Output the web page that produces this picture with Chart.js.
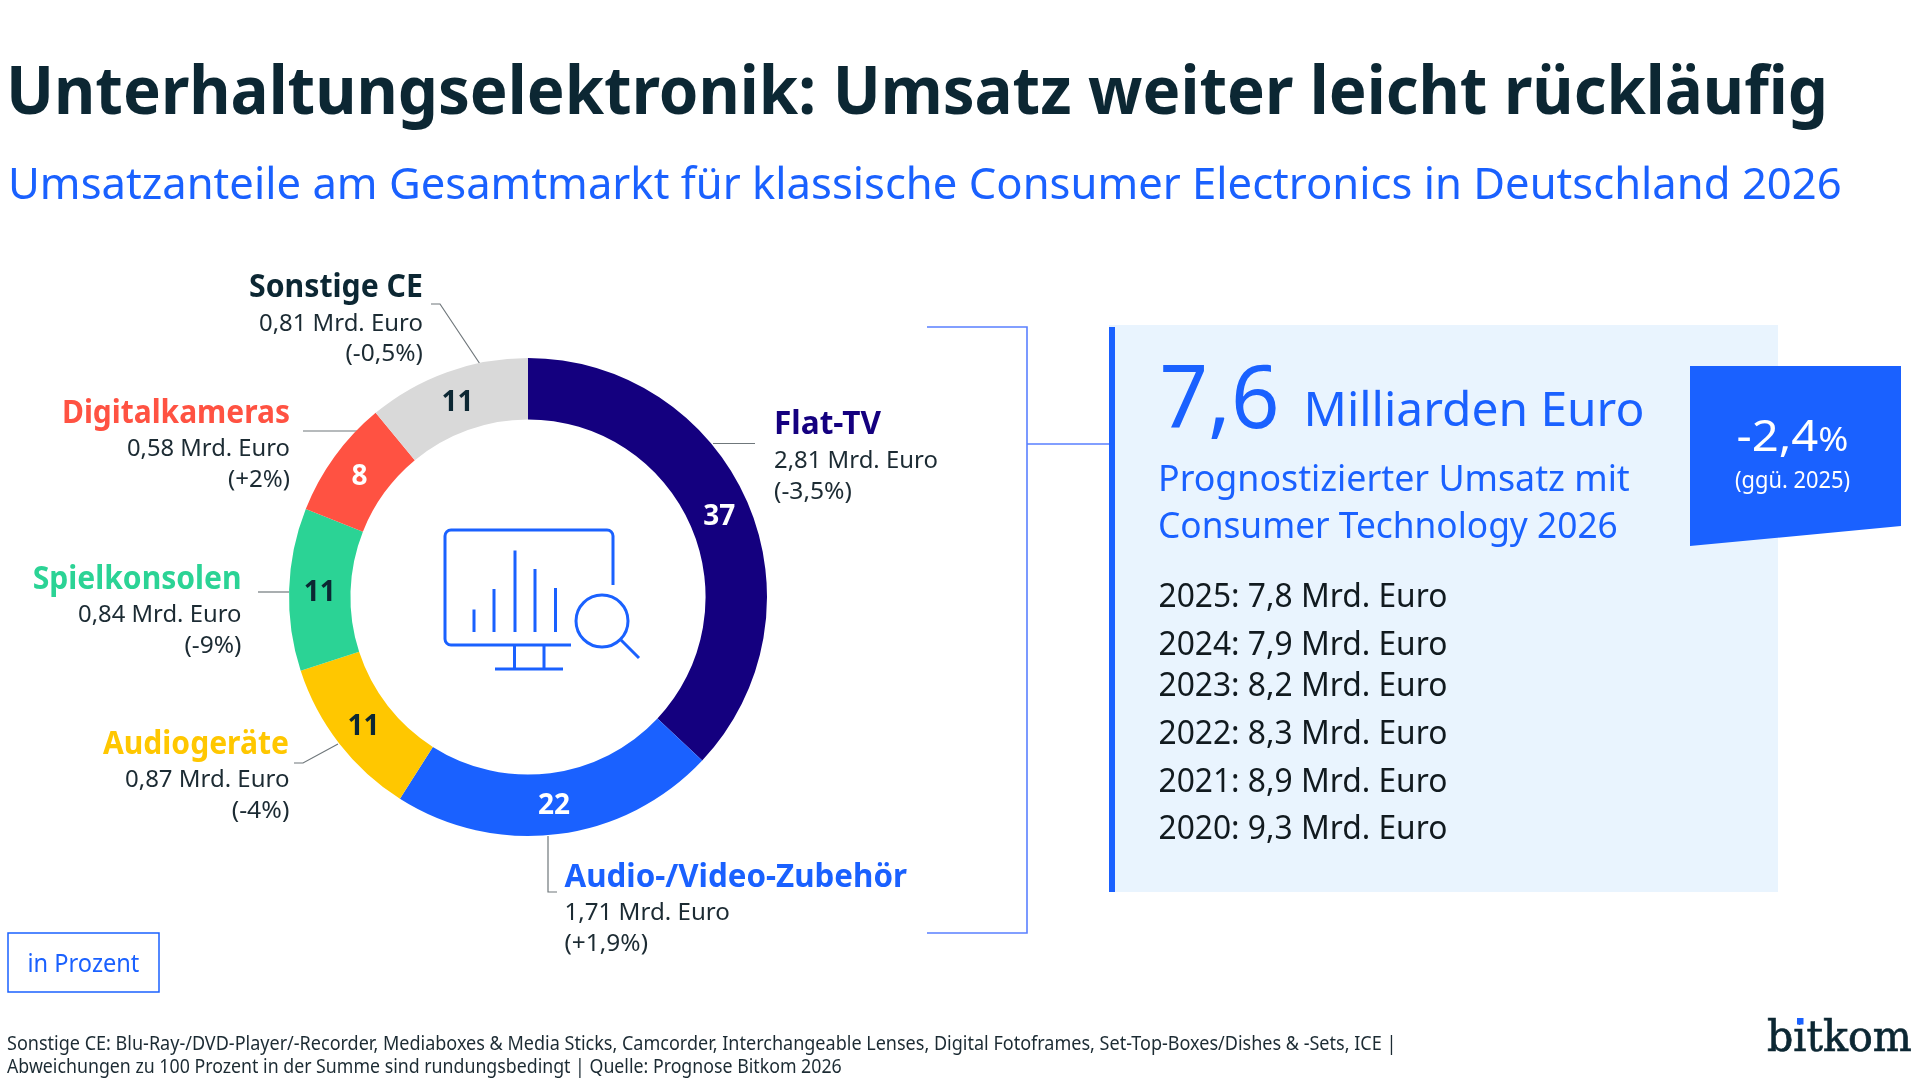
<!DOCTYPE html>
<html lang="de">
<head>
<meta charset="utf-8">
<title>Unterhaltungselektronik</title>
<script src="https://cdn.jsdelivr.net/npm/chart.js@4"></script>
<style>
    html, body { margin: 0; padding: 0; background: #fff; }
    #page { position: relative; width: 1920px; height: 1080px; overflow: hidden; }
    #ring { position: absolute; left: 278px; top: 347px; }
    #overlay { position: absolute; left: 0; top: 0; }
</style>
</head>
<body>
<div id="page">
    <svg id="overlay" width="1920" height="1080" viewBox="0 0 1920 1080" xmlns="http://www.w3.org/2000/svg">
        <!-- panel rechts -->
        <rect x="1109" y="325" width="669" height="567" fill="#e9f4fe"/>
        <rect x="1109" y="327" width="6" height="565" fill="#1a61ff"/>
        <polygon points="1690,366 1901,366 1901,526 1690,546" fill="#1a61ff"/>
        <!-- klammer -->
        <path d="M927 327H1027V933H927M1027 444H1109" fill="none" stroke="#5a80ff" stroke-width="1.6"/>
        <!-- leader lines -->
        <g fill="none" stroke="#6f777b" stroke-width="1.2">
            <path d="M431 304H440L480 364"/>
            <path d="M303 431H358"/>
            <path d="M713 443.5H755"/>
            <path d="M258 592H289"/>
            <path d="M294 763H303L338 744"/>
            <path d="M548 836V892H557"/>
        </g>
        <!-- icon -->
        <g fill="none" stroke="#1a61ff" stroke-width="3">
            <path d="M613 585V536a6 6 0 0 0-6-6H451a6 6 0 0 0-6 6V639a6 6 0 0 0 6 6H571"/>
            <path d="M514.5 645V668M544 645V668M495 669H563"/>
            <path d="M474 609.5V632M494 589V632M515 550.5V632M535 569V632M555.5 588V632"/>
            <circle cx="602" cy="621" r="26"/>
            <path d="M621 640L639 658"/>
        </g>
        <!-- in Prozent -->
        <rect x="8" y="933" width="151" height="59" fill="none" stroke="#1a61ff" stroke-width="1.5"/>
    </svg>
    <canvas id="ring" width="500" height="500"></canvas>
    <svg id="labels" style="position:absolute;left:0;top:0" width="1920" height="1080" viewBox="0 0 1920 1080" xmlns="http://www.w3.org/2000/svg"></svg>
</div>
<script>
const categories = ["Flat-TV", "Audio-/Video-Zubehör", "Audiogeräte", "Spielkonsolen", "Digitalkameras", "Sonstige CE"];
const shares = [37, 22, 11, 11, 8, 11];
const amounts = ["2,81 Mrd. Euro", "1,71 Mrd. Euro", "0,87 Mrd. Euro", "0,84 Mrd. Euro", "0,58 Mrd. Euro", "0,81 Mrd. Euro"];
const changes = ["(-3,5%)", "(+1,9%)", "(-4%)", "(-9%)", "(+2%)", "(-0,5%)"];
const historyYears = ["2025", "2024", "2023", "2022", "2021", "2020"];
const historyValues = ["7,8", "7,9", "8,2", "8,3", "8,9", "9,3"];

const ringColors = ["#14007f", "#1a61ff", "#ffc700", "#2bd395", "#ff5242", "#d9d9d9"];
const nameColors = ["#14007f", "#1a61ff", "#ffc700", "#2bd395", "#ff5242", "#0c2733"];
const shareColors = ["#fff", "#fff", "#0c2733", "#0c2733", "#fff", "#0c2733"];

// x = linke kante, y = baseline, w = breite je zeile
const labelPos = [
    { y: [433.5, 468, 499], x: [774, 774, 774], w: [107, 164, 78] },
    { y: [886.5, 920, 951], x: [564.5, 564.5, 564.5], w: [342.5, 165.5, 83.5] },
    { y: [753.5, 786.5, 817.5], x: [103, 125, 231.7], w: [186, 164.5, 57.7] },
    { y: [589, 622, 653], x: [32.7, 78, 184.5], w: [209, 163.5, 57] },
    { y: [423, 456, 487], x: [62, 127, 228], w: [228, 163, 62] },
    { y: [296.5, 330.5, 361], x: [249, 259, 345.5], w: [174, 164, 77.5] }
];
const historyBase = [606.5, 654.5, 696, 743.5, 791.5, 838.5];

const labels = document.getElementById("labels");

// text auf feste breite gestaucht, y ist die baseline
function addText(str, x, y, size, color, weight, width, family) {
    const t = document.createElementNS("http://www.w3.org/2000/svg", "text");
    t.setAttribute("x", 0);
    t.setAttribute("y", 0);
    t.setAttribute("fill", color);
    t.setAttribute("font-size", size);
    t.setAttribute("font-weight", weight);
    t.setAttribute("font-family", family || '"Noto Sans", sans-serif');
    t.textContent = str;
    labels.appendChild(t);
    t.dataset.width = width;
    t.dataset.x = x;
    t.dataset.y = y;
    return t;
}

function fitTexts() {
    labels.querySelectorAll("text").forEach(function (t) {
        const k = t.dataset.width / t.getComputedTextLength();
        t.setAttribute("transform", "translate(" + t.dataset.x + " " + t.dataset.y + ") scale(" + k + " 1)");
    });
}

const dark = "#0c2733";
const blue = "#1a61ff";

addText("Unterhaltungselektronik: Umsatz weiter leicht rückläufig", 6, 114, 67, dark, 700, 1822);
addText("Umsatzanteile am Gesamtmarkt für klassische Consumer Electronics in Deutschland 2026", 8, 199, 44, blue, 400, 1834);

categories.forEach(function (name, i) {
    const p = labelPos[i];
    addText(name, p.x[0], p.y[0], 32, nameColors[i], 700, p.w[0]);
    addText(amounts[i], p.x[1], p.y[1], 24, "#1c2b33", 400, p.w[1]);
    addText(changes[i], p.x[2], p.y[2], 24, "#1c2b33", 400, p.w[2]);
});

addText("7,6", 1159.5, 428, 88, blue, 400, 120);
addText("Milliarden Euro", 1303.5, 426, 48, blue, 400, 341);
addText("Prognostizierter Umsatz mit", 1158, 491, 37, blue, 400, 472);
addText("Consumer Technology 2026", 1158, 537.5, 37, blue, 400, 460);

historyYears.forEach(function (year, i) {
    addText(year + ": " + historyValues[i] + " Mrd. Euro", 1158.5, historyBase[i], 32, "#111a1f", 400, 289);
});

const pct = addText("-2,4", 1736.5, 451, 43, "#fff", 400, 112);
const pctSign = document.createElementNS("http://www.w3.org/2000/svg", "tspan");
pctSign.setAttribute("font-size", 33);
pctSign.textContent = "%";
pct.appendChild(pctSign);
addText("(ggü. 2025)", 1735, 488, 24, "#fff", 400, 115);

addText("in Prozent", 27.5, 972, 25, blue, 400, 112);

addText("Sonstige CE: Blu-Ray-/DVD-Player/-Recorder, Mediaboxes & Media Sticks, Camcorder, Interchangeable Lenses, Digital Fotoframes, Set-Top-Boxes/Dishes & -Sets, ICE |", 7, 1050, 20, "#1c2b33", 400, 1390);
addText("Abweichungen zu 100 Prozent in der Summe sind rundungsbedingt | Quelle: Prognose Bitkom 2026", 7, 1072.5, 20, "#1c2b33", 400, 835);

const logo = addText("bitkom", 1767, 1050.5, 42, dark, 400, 145, '"DejaVu Serif", serif');
logo.setAttribute("stroke", dark);
logo.setAttribute("stroke-width", 0.7);
fitTexts();

// punkt auf dem i
const dot = document.createElementNS("http://www.w3.org/2000/svg", "rect");
dot.setAttribute("x", 1797);
dot.setAttribute("y", 1018);
dot.setAttribute("width", 6.5);
dot.setAttribute("height", 6.5);
dot.setAttribute("fill", blue);
labels.appendChild(dot);

// zahlen mitten im ring
const shareLabels = {
    id: "shareLabels",
    afterDatasetsDraw(chart) {
        const ctx = chart.ctx;
        chart.getDatasetMeta(0).data.forEach(function (arc, i) {
            const pos = arc.tooltipPosition();
            ctx.save();
            ctx.font = '700 28px "Noto Sans", sans-serif';
            ctx.textAlign = "center";
            ctx.textBaseline = "middle";
            ctx.fillStyle = shareColors[i];
            ctx.fillText(shares[i], pos.x, pos.y + 2.5);
            ctx.restore();
        });
    }
};

new Chart(document.getElementById("ring"), {
    type: "doughnut",
    data: {
        labels: categories,
        datasets: [{
            data: shares,
            backgroundColor: ringColors,
            borderWidth: 0,
            radius: 239,
            cutout: "74.3%"
        }]
    },
    options: {
        responsive: false,
        animation: false,
        devicePixelRatio: 1,
        layout: { padding: 0 },
        plugins: { legend: { display: false }, tooltip: { enabled: false } }
    },
    plugins: [shareLabels]
});
</script>
</body>
</html>
